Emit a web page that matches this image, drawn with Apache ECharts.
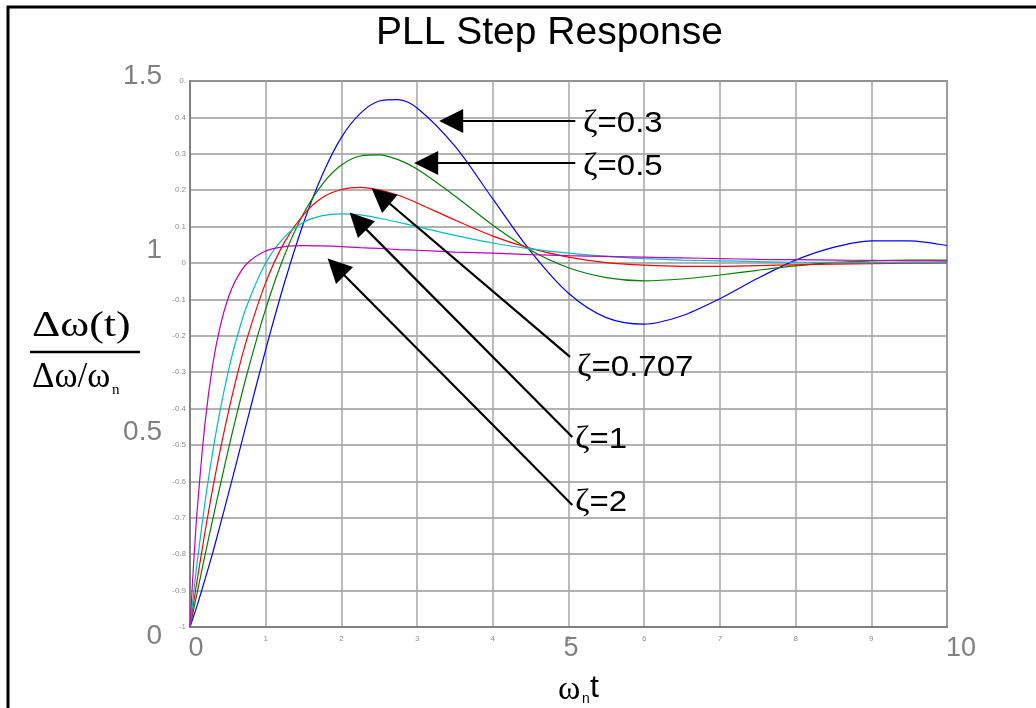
<!DOCTYPE html>
<html>
<head>
<meta charset="utf-8">
<title>PLL Step Response</title>
<script src="https://cdn.jsdelivr.net/npm/echarts@6/dist/echarts.min.js"></script>
<style>
  html, body { margin: 0; padding: 0; background: #fff; }
  #chart { width: 1036px; height: 708px; }
</style>
</head>
<body>
<div id="chart"></div>
<script>
// normalised time (wn*t)
var tValues = [0, 0.05, 0.1, 0.2, 0.3, 0.4, 0.5, 0.6, 0.75, 1, 1.25, 1.5, 1.75, 2, 2.25, 2.5, 2.75, 3,
  3.5, 4, 4.5, 5, 5.5, 6, 6.5, 7, 7.5, 8, 8.5, 9, 9.5, 10];

// one value per time above
var zeta03 = [0, 0.031, 0.063, 0.132, 0.204, 0.281, 0.360, 0.440, 0.562, 0.762, 0.947, 1.110, 1.243, 1.345, 1.411, 1.445,
  1.449, 1.426, 1.321, 1.176, 1.032, 0.917, 0.850, 0.832, 0.855, 0.902, 0.958, 1.008, 1.043, 1.061, 1.061, 1.048];
var zeta05 = [0, 0.050, 0.100, 0.199, 0.296, 0.390, 0.482, 0.569, 0.693, 0.874, 1.022, 1.136, 1.217, 1.269, 1.294, 1.297,
  1.284, 1.258, 1.184, 1.104, 1.035, 0.987, 0.960, 0.951, 0.956, 0.967, 0.980, 0.992, 1.001, 1.006, 1.008, 1.008];
var zeta0707 = [0, 0.070, 0.136, 0.263, 0.380, 0.487, 0.584, 0.673, 0.790, 0.946, 1.058, 1.133, 1.180, 1.202, 1.208, 1.201,
  1.186, 1.165, 1.118, 1.074, 1.040, 1.016, 1.001, 0.994, 0.991, 0.991, 0.993, 0.995, 0.997, 0.998, 0.9995, 1.000];
var zeta1 = [0, 0.096, 0.186, 0.345, 0.481, 0.598, 0.697, 0.781, 0.882, 1.000, 1.072, 1.112, 1.130, 1.135, 1.132, 1.123,
  1.112, 1.100, 1.076, 1.055, 1.039, 1.027, 1.018, 1.012, 1.008, 1.006, 1.004, 1.002, 1.002, 1.001, 1.001, 1.000];
var zeta2 = [0, 0.182, 0.334, 0.563, 0.720, 0.827, 0.901, 0.951, 0.998, 1.033, 1.045, 1.048, 1.047, 1.045, 1.042, 1.040,
  1.037, 1.035, 1.030, 1.027, 1.023, 1.020, 1.018, 1.016, 1.014, 1.012, 1.010, 1.009, 1.008, 1.007, 1.006, 1.005];

var seriesNames = ['ζ=0.3', 'ζ=0.5', 'ζ=0.707', 'ζ=1', 'ζ=2'];
var seriesColors = ['#0000ff', '#008000', '#ff0000', '#00bfbf', '#bf00bf'];

// small inner tick labels on the left axis, from bottom to top
var innerYLabels = ['-1', '-0.9', '-0.8', '-0.7', '-0.6', '-0.5', '-0.4', '-0.3', '-0.2', '-0.1',
  '0', '0.1', '0.2', '0.3', '0.4', '0.'];
var innerXLabels = ['', '1', '2', '3', '4', '5', '6', '7', '8', '9', ''];

// arrows: [tail t, tail y, head t, head y]
var arrowEnds = [
  [5.09, 1.39, 3.45, 1.39],
  [5.09, 1.275, 3.12, 1.275],
  [5.02, 0.742, 2.52, 1.184],
  [5.05, 0.522, 2.22, 1.115],
  [5.05, 0.335, 1.93, 0.989]
];

function pairs(ys) {
  return tValues.map(function (t, i) { return [t, ys[i]]; });
}

var chart = echarts.init(document.getElementById('chart'));

var allSeries = [zeta03, zeta05, zeta0707, zeta1, zeta2].map(function (ys, i) {
  var a = arrowEnds[i];
  return {
    name: seriesNames[i],
    type: 'line',
    data: pairs(ys),
    showSymbol: false,
    smooth: 0.3,
    z: 3,
    lineStyle: { color: seriesColors[i], width: 1.2 },
    markLine: {
      silent: true,
      symbol: ['none', 'triangle'],
      symbolSize: 24,
      label: { show: false },
      lineStyle: { color: '#000', width: 2.2, type: 'solid' },
      itemStyle: { color: '#000' },
      data: [[{ coord: [a[0], a[1]] }, { coord: [a[2], a[3]] }]]
    }
  };
});

var sans = 'Liberation Sans, Arial, sans-serif';
var serif = 'Liberation Serif, Times New Roman, serif';

function zetaLabel(txt, x, y) {
  return {
    type: 'text',
    left: x,
    top: y,
    z: 100,
    scaleX: 1.1,
    style: {
      text: '{z|ζ}{n|' + txt + '}',
      rich: {
        z: { fontFamily: serif, fontSize: 32, fill: '#000' },
        n: { fontFamily: sans, fontSize: 30, fill: '#000' }
      }
    }
  };
}

var option = {
  backgroundColor: '#fff',
  animation: false,
  title: {
    text: 'PLL Step Response',
    left: 371,
    top: 9,
    textStyle: { fontFamily: sans, fontSize: 39, fontWeight: 'normal', color: '#000' }
  },
  grid: {
    left: 190, right: 89, top: 81, bottom: 81,
    show: true, borderColor: '#808080', borderWidth: 2, backgroundColor: '#fff'
  },
  xAxis: [{
    type: 'value', min: 0, max: 10, interval: 1,
    axisLine: { show: true, lineStyle: { color: '#808080', width: 2 } },
    axisTick: { show: false },
    splitLine: { show: true, lineStyle: { color: '#a6a6a6', width: 1.5 } },
    axisLabel: {
      fontSize: 8, color: '#909090', margin: 8, fontFamily: sans,
      formatter: function (v) { return innerXLabels[Math.round(v)]; }
    }
  }, {
    type: 'value', min: 0, max: 10, interval: 5, position: 'bottom',
    axisLine: { show: false }, axisTick: { show: false }, splitLine: { show: false },
    axisLabel: {
      margin: 8, color: '#808080', fontFamily: sans, fontSize: 27,
      formatter: function (v) {
        if (v === 0) return '{l|0}';
        if (v === 10) return '{r|10}';
        return '{m|' + v + '}';
      },
      rich: {
        l: { fontSize: 27, color: '#808080', padding: [0, 0, 0, 12] },
        m: { fontSize: 27, color: '#808080', padding: [0, 0, 0, 5] },
        r: { fontSize: 27, color: '#808080', padding: [0, 0, 0, 28] }
      }
    }
  }],
  yAxis: [{
    type: 'value', min: 0, max: 1.5, interval: 0.1,
    axisLine: { show: true, lineStyle: { color: '#808080', width: 2 } },
    axisTick: { show: false },
    splitLine: { show: true, lineStyle: { color: '#999999', width: 1.5 } },
    axisLabel: {
      fontSize: 8, color: '#909090', margin: 4, fontFamily: sans,
      formatter: function (v) { return innerYLabels[Math.round(v * 10)]; }
    }
  }, {
    type: 'value', min: 0, max: 1.5, interval: 0.5, position: 'left',
    axisLine: { show: false }, axisTick: { show: false }, splitLine: { show: false },
    axisLabel: {
      margin: 28, color: '#808080', fontFamily: sans, fontSize: 28,
      formatter: function (v) {
        if (v === 0) return '{lo|0}';
        if (v === 1.5) return '{hi|1.5}';
        return '{mid|' + v + '}';
      },
      rich: {
        lo: { fontSize: 28, color: '#808080', padding: [18, 0, 0, 0] },
        hi: { fontSize: 28, color: '#808080', padding: [0, 0, 10, 0] },
        mid: { fontSize: 28, color: '#808080', padding: [0, 0, 26, 0] }
      }
    }
  }],
  series: allSeries,
  graphic: [
    {
      type: 'rect', silent: true, z: 100,
      shape: { x: 8, y: 7, width: 1200, height: 900 },
      style: { fill: 'none', stroke: '#000', lineWidth: 3 }
    },
    {
      type: 'text', left: 32, top: 309, scaleX: 1.22,
      style: { text: 'Δω(t)', fontFamily: serif, fontSize: 36, fill: '#000' }
    },
    {
      type: 'line', silent: true,
      shape: { x1: 30, y1: 352, x2: 140, y2: 352 },
      style: { stroke: '#000', lineWidth: 2.5 }
    },
    {
      type: 'text', left: 32, top: 360,
      style: { text: 'Δω/ω', fontFamily: serif, fontSize: 35, fill: '#000' }
    },
    {
      type: 'text', left: 112, top: 383,
      style: { text: 'n', fontFamily: serif, fontSize: 15, fill: '#000' }
    },
    {
      type: 'text', left: 558, top: 673,
      style: { text: 'ω', fontFamily: serif, fontSize: 34, fill: '#000' }
    },
    {
      type: 'text', left: 582, top: 692,
      style: { text: 'n', fontFamily: sans, fontSize: 14, fill: '#000' }
    },
    {
      type: 'text', left: 590, top: 672,
      style: { text: 't', fontFamily: sans, fontSize: 32, fill: '#000' }
    },
    zetaLabel('=0.3', 583, 108),
    zetaLabel('=0.5', 583, 151),
    zetaLabel('=0.707', 577, 352),
    zetaLabel('=1', 575, 424),
    zetaLabel('=2', 575, 487)
  ]
};

chart.setOption(option);
</script>
</body>
</html>
